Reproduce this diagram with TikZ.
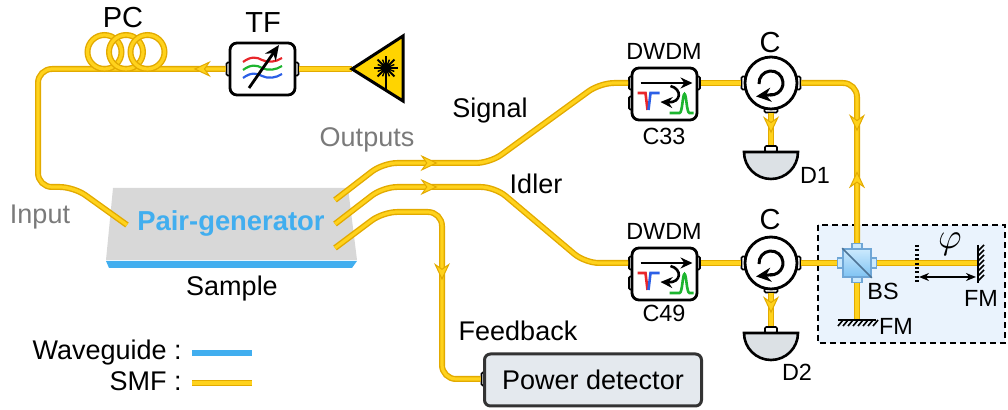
\documentclass[tikz,border=0pt]{standalone}
\usepackage{fontspec}
\setmainfont{Liberation Sans}
\usepackage{tikz}
\usetikzlibrary{arrows.meta,decorations.markings}

\definecolor{fibdark}{HTML}{E2AA00}
\definecolor{fibcore}{HTML}{FFD21C}
\definecolor{wgblue}{HTML}{41AEEF}
\definecolor{lasery}{HTML}{FFD400}
\definecolor{detgray}{HTML}{DCE1E5}
\definecolor{pdgray}{HTML}{E4E9EE}
\definecolor{mibox}{HTML}{EAF3FD}
\definecolor{labgray}{HTML}{7A7A7A}
\definecolor{samgray}{HTML}{D8D8D8}
\definecolor{tfred}{HTML}{E8262A}
\definecolor{tfgreen}{HTML}{1DB52F}
\definecolor{tfblue}{HTML}{2B5FE6}
\definecolor{bslight}{HTML}{CBE9FD}
\definecolor{bsdark}{HTML}{7FC3F3}
\definecolor{bsedge}{HTML}{6FA6D6}

\begin{document}
\begin{tikzpicture}[
  x=0.5pt, y=-0.5pt,
  >=Stealth,
  lbl/.style={font=\fontsize{13.5}{15}\selectfont, inner sep=0pt, anchor=base},
  biglbl/.style={lbl, font=\fontsize{14.5}{16}\selectfont},
  smlbl/.style={lbl, font=\fontsize{11.7}{13}\selectfont},
  fibtip/.tip={Stealth[length=8.5pt, width=8pt, inset=2.8pt, line width=0.5pt, color=fibdark, fill=fibcore]},
  fiber/.style={draw=fibdark, line width=3pt, rounded corners=7pt,
    postaction={draw=fibcore, line width=1.6pt}},
  fibarrow/.style={postaction={decorate, decoration={markings,
    mark=at position #1 with {\arrow{fibtip}}}}},
  fibback/.style={postaction={decorate, decoration={markings,
    mark=at position #1 with {\arrowreversed{fibtip}}}}},
  devbox/.style={draw, line width=1.4pt, fill=white, rounded corners=3.5pt,
    minimum width=32.5pt, minimum height=26pt, inner sep=0pt},
  port/.style={draw, line width=0.8pt, fill=white, rounded corners=0.6pt,
    inner sep=0pt, minimum width=3pt, minimum height=6.5pt},
  hport/.style={port, minimum width=6.5pt, minimum height=3pt},
  icon/.style={line width=1.3pt},
  dwdm/.pic={
    \node[port] (-a) at (-32.5,-11) {};
    \node[port] (-b) at (-32.5,9) {};
    \node[port] (-o) at (32.5,-11) {};
    \node[devbox] (-box) at (0,0) {};
    \draw[icon, -{Stealth[length=6pt, width=5.5pt]}] (-24,-11) -- (28,-11);
    \draw[icon, -{Stealth[length=6pt, width=5.5pt]}] (6,-8) .. controls (18,-5) and (17,9) .. (-4,8);
    \draw[icon, tfred] (-27,-1) -- (-19,-1) -- (-17,16);
    \draw[icon, tfblue] (-16,16) -- (-14,-1) -- (-5,-1);
    \draw[icon, tfgreen] (5,19) -- (15,19) .. controls (18,19) and (18,0) .. (20,0)
      .. controls (22,0) and (22,19) .. (25,19) -- (29,19);
  },
  circ/.pic={
    \node[port] (-w) at (-26.5,0) {};
    \node[port] (-e) at (26.5,0) {};
    \node[hport] (-s) at (0,26.5) {};
    \node[circle, draw, line width=1.4pt, fill=white, minimum size=26pt, inner sep=0pt] (-body) at (0,0) {};
    \draw[line width=1.5pt] (-185:12) arc[start angle=-185, end angle=95, radius=12];
    \draw[line width=1.5pt, -{Stealth[length=7.5pt, width=7pt]}] (2,11.5) -- (-15,13.5);
  },
  det/.pic={
    \node[hport, minimum width=6pt] (-p) at (0,-3) {};
    \draw[line width=1.3pt, fill=detgray] (-27,0) arc[start angle=-180, end angle=-360, radius=27] -- cycle;
  },
  pdbox/.style={draw=black!80, line width=1.5pt, fill=pdgray, rounded corners=3pt,
    minimum width=108.5pt, minimum height=26pt, inner sep=0pt, font=\fontsize{13.5}{15}\selectfont},
  bsport/.style={draw=bsedge, line width=0.7pt, fill=bslight, inner sep=0pt},
  bscube/.style={draw=bsedge, line width=0.8pt, top color=bslight, bottom color=bsdark,
    minimum size=14pt, inner sep=0pt},
  mirror/.style={line width=1.3pt},
  hatch/.style={line width=0.8pt}
]
\useasboundingbox (0,0) rectangle (1008,410);

% interferometer area
\draw[dash pattern=on 3pt off 2pt, line width=1.1pt, fill=mibox] (818,225) rectangle (1005,343);

% sample with waveguide layer
\fill[samgray] (113,188) -- (348,188) -- (357,260) -- (106,260) -- cycle;
\fill[wgblue] (106,261) -- (357,261) -- (352,268) -- (109,268) -- cycle;
\coordinate (sIn) at (127,225);
\coordinate (sOut1) at (335,200);
\coordinate (sOut2) at (335,224);
\coordinate (sOut3) at (335,248);

% tunable filter
\coordinate (laser) at (352,69);
\node[port] (tfW) at (229.5,69) {};
\node[port] (tfE) at (295.5,69) {};
\node[devbox] (tf) at (262.5,69) {};
\foreach \c/\dy in {tfred/0, tfgreen/8, tfblue/16}
  \draw[\c, line width=1.1pt] (243,{62+\dy}) .. controls (251,{56+\dy}) and (257,{57+\dy}) .. (262,{60+\dy})
    .. controls (268,{63+\dy}) and (276,{62+\dy}) .. (282,{58+\dy});
\draw[line width=1.4pt, -{Stealth[length=7.5pt, width=6.5pt]}] (249,88) -- (279,45);

\pic (dw1) at (664.5,94) {dwdm};
\pic (dw2) at (664.5,274) {dwdm};
\pic (c1) at (771,83) {circ};
\pic (c2) at (771,263) {circ};
\pic (det1) at (771,152) {det};
\pic (det2) at (771,333) {det};

\node[port] (pdP) at (484.5,379) {};
\node[pdbox] (pd) at (593,380) {Power detector};

% beam splitter
\node[bsport, minimum width=5pt, minimum height=3pt] (bsN) at (857,246.5) {};
\node[bsport, minimum width=5pt, minimum height=3pt] (bsS) at (857,279.5) {};
\node[bsport, minimum width=3pt, minimum height=5pt] (bsW) at (840.5,263) {};
\node[bsport, minimum width=3pt, minimum height=5pt] (bsE) at (873.5,263) {};
\node[bscube] (bs) at (857,263) {};
\draw[bsedge!70!black, line width=0.8pt] (bs.north west) -- (bs.south east);

\coordinate (fmR) at (977,263);
\coordinate (fmB) at (857,319);
\coordinate (ghost) at (919,277);
\coordinate (fmRa) at (976,277);

% fibres
\draw[fiber] (laser) -- (tfE);
\draw[fiber, fibarrow=16pt] (tfW) -- (38,69) -- (38,187) -- (74,187) -- (sIn);
\foreach \xx in {104.5,126,147.5} \draw[fiber] (\xx,52) circle[radius=17];
\draw[fiber, fibarrow=57pt] (sOut1) -- (383,163) -- (490,163) -- (600,83) -- (dw1-a);
\draw[fiber, fibarrow=57pt] (sOut2) -- (383,187) -- (495,187) -- (585,263) -- (dw2-a);
\draw[fiber, fibarrow=90pt] (sOut3) -- (383,212) -- (442,212) -- (442,379) -- (pdP);
\draw[fiber] (dw1-o) -- (c1-w);
\draw[fiber] (dw2-o) -- (c2-w);
\draw[fiber, fibarrow=10pt] (c1-s) -- (det1-p);
\draw[fiber, fibarrow=10pt] (c2-s) -- (det2-p);
\draw[fiber, fibarrow=49pt, fibback=69pt] (c1-e) -- (857,83) -- (bsN);
\draw[fiber] (c2-e) -- (bsW);
\draw[fiber] (bsE) -- (fmR);
\draw[fiber] (bsS) -- (fmB);

% laser
\draw[line width=1.5pt, fill=lasery] (laser) -- (403,36) -- (403,101) -- cycle;
\fill (386,68) circle[radius=5];
\foreach \a in {0,45,...,315} \draw[line width=0.9pt] (386,68) -- ++(\a:12);
\foreach \a in {22.5,67.5,...,337.5} \draw[line width=0.7pt] (386,68) -- ++(\a:9);
\draw[line width=1pt] (386,68) -- (386,90);

% mirrors
\draw[mirror] (978,245) -- (978,283);
\foreach \yy in {251,256,...,283} \draw[hatch] (978,\yy) -- ++(6,-6);
\draw[mirror] (838,320) -- (876,320);
\foreach \xx in {843,848,...,878} \draw[hatch] (\xx,320) -- ++(-5,6);
\draw[line width=2.4pt, dash pattern=on 1pt off 1.2pt] (917,245) -- (917,283);
\draw[line width=0.9pt, {Stealth[length=5pt, width=4pt]}-{Stealth[length=5pt, width=4pt]}] (ghost) -- (fmRa);

% labels
\node[biglbl] (lPC) at (123,28) {PC};
\node[biglbl] (lTF) at (263,33) {TF};
\node[lbl, text=labgray] (lOut) at (367,147) {Outputs};
\node[lbl] (lSig) at (490,118) {Signal};
\node[lbl] (lIdl) at (536,194) {Idler};
\node[lbl, text=labgray] (lIn) at (40,224) {Input};
\node[lbl] (lSam) at (232,296) {Sample};
\node[lbl, font=\fontsize{13.7}{15}\selectfont\bfseries, text=wgblue] (lPair) at (231,231) {Pair-generator};
\node[lbl] (lFb) at (518,341) {Feedback};
\node[smlbl] (lDw1) at (664,60) {DWDM};
\node[smlbl] (lC33) at (664,145) {C33};
\node[smlbl] (lDw2) at (664,240) {DWDM};
\node[smlbl] (lC49) at (664,322) {C49};
\node[biglbl] (lC1) at (770,53) {C};
\node[biglbl] (lC2) at (770,230) {C};
\node[smlbl] (lD1) at (815,184) {D1};
\node[smlbl] (lD2) at (797,381) {D2};
\node[smlbl] (lBS) at (883,300) {BS};
\node[smlbl] (lFM1) at (981,307) {FM};
\node[smlbl] (lFM2) at (896,335) {FM};
\node[inner sep=0pt] (lPhi) at (950,244) {\scalebox{1.8}{$\varphi$}};

% legend
\node[lbl, anchor=base east] (lgWG) at (182,360) {Waveguide :};
\node[lbl, anchor=base east] (lgSMF) at (182,391) {SMF :};
\coordinate (wgA) at (192,353);
\coordinate (wgB) at (252,353);
\coordinate (smA) at (192,383);
\coordinate (smB) at (252,383);
\draw[wgblue, line width=3pt] (wgA) -- (wgB);
\draw[fiber] (smA) -- (smB);
\end{tikzpicture}
\end{document}
